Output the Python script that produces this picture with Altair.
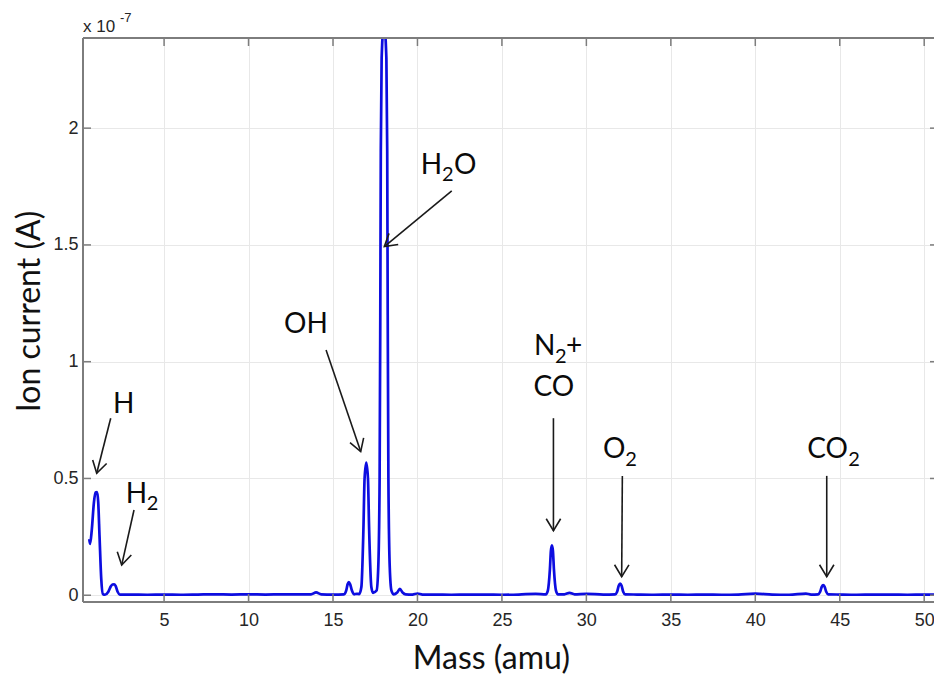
import altair as alt
import pandas as pd
import math

# ---------------- data (ion current in units of 1e-7 A) ----------------
mass = [0.57, 0.62, 0.72, 0.85, 0.95, 1.03, 1.10, 1.18, 1.28, 1.38, 1.50, 1.70, 1.85, 1.95, 2.04, 2.13, 2.25, 2.38,
        3.0, 4.0, 5.0, 6.0, 7.0, 8.0, 9.0, 10.0, 11.0, 12.0, 13.0, 13.7, 14.0, 14.3, 15.0,
        15.65, 15.78, 15.87, 15.94, 16.01, 16.12, 16.25, 16.40, 16.55, 16.68, 16.80, 16.87, 16.97, 17.07, 17.14, 17.27, 17.37,
        17.58, 17.68, 17.76, 17.80, 17.83, 17.88, 18.02, 18.16, 18.21, 18.24, 18.28, 18.36, 18.46,
        18.6, 18.8, 18.96, 19.12, 19.3, 19.7, 20.0, 20.3, 21.0, 22.0, 23.0, 24.0, 25.0, 26.0, 27.0,
        27.6, 27.72, 27.84, 27.9, 27.96, 28.02, 28.08, 28.2, 28.32, 28.7, 29.0, 29.3, 30.0, 31.0,
        31.7, 31.82, 31.92, 32.0, 32.08, 32.18, 32.3, 33.0, 34.0, 35.0, 36.0, 37.0, 38.0, 39.0, 40.0, 41.0, 42.0, 43.0, 43.3,
        43.72, 43.84, 43.94, 44.02, 44.1, 44.2, 44.32, 45.0, 46.0, 47.0, 48.0, 49.0, 50.0, 50.58]
current = [0.24, 0.22, 0.28, 0.40, 0.44, 0.442, 0.40, 0.25, 0.07, 0.005, 0.002, 0.015, 0.038, 0.046, 0.047, 0.040, 0.015, 0.003,
           0.003, 0.002, 0.003, 0.002, 0.003, 0.004, 0.003, 0.004, 0.003, 0.004, 0.004, 0.004, 0.012, 0.004, 0.003,
           0.004, 0.020, 0.048, 0.056, 0.048, 0.020, 0.004, 0.006, 0.005, 0.035, 0.28, 0.50, 0.568, 0.50, 0.28, 0.035, 0.010,
           0.02, 0.12, 0.5, 1.2, 1.9, 2.3, 2.45, 2.3, 1.9, 1.2, 0.5, 0.12, 0.02,
           0.004, 0.012, 0.027, 0.012, 0.004, 0.003, 0.007, 0.003, 0.003, 0.002, 0.003, 0.003, 0.002, 0.003, 0.006,
           0.004, 0.020, 0.11, 0.19, 0.214, 0.19, 0.11, 0.020, 0.004, 0.004, 0.010, 0.004, 0.006, 0.003,
           0.004, 0.015, 0.042, 0.050, 0.042, 0.015, 0.004, 0.003, 0.002, 0.003, 0.002, 0.003, 0.002, 0.003, 0.007, 0.003, 0.002, 0.007, 0.003,
           0.004, 0.015, 0.037, 0.043, 0.037, 0.015, 0.004, 0.003, 0.002, 0.003, 0.003, 0.002, 0.003, 0.003]

x_ticks = [5, 10, 15, 20, 25, 30, 35, 40, 45, 50]
y_ticks = [0, 0.5, 1, 1.5, 2]

# annotation text pieces (data coordinates; "small" pieces are subscripts)
piece_text = ["H", "H", "2", "OH", "H", "2", "O", "N", "2", "+", "CO", "O", "2", "CO", "2"]
piece_x = [1.98, 2.73, 3.98, 12.10, 20.19, 21.46, 22.17, 26.90, 28.14, 28.80, 26.87, 30.99, 32.30, 43.08, 45.50]
piece_y = [0.779, 0.394, 0.365, 1.124, 1.804, 1.775, 1.804, 1.029, 0.996, 1.029, 0.853, 0.586, 0.555, 0.586, 0.555]
piece_small = [False, False, True, False, False, True, False, False, True, False, False, False, True, False, True]

# arrows: start -> tip (data coordinates)
arrow_x1 = [1.84, 3.22, 14.59, 22.03, 28.05, 32.13, 44.23]
arrow_y1 = [0.758, 0.365, 1.050, 1.731, 0.758, 0.511, 0.511]
arrow_x2 = [1.011, 2.49, 16.64, 18.04, 28.05, 32.09, 44.23]
arrow_y2 = [0.522, 0.129, 0.615, 1.493, 0.276, 0.079, 0.079]

# ---------------- layout ----------------
W, H = 851, 564
XMIN, XMAX = 0.2, 50.58
YMIN, YMAX = -0.029, 2.386
PXX = W / (XMAX - XMIN)
PXY = H / (YMAX - YMIN)

xs = alt.Scale(domain=[XMIN, XMAX], nice=False, zero=False)
ys = alt.Scale(domain=[YMIN, YMAX], nice=False, zero=False)

AX = alt.Axis(values=x_ticks, grid=True, gridColor="#e8e8e8", domain=False, ticks=False,
              labelFont="Liberation Sans", labelFontSize=18, labelColor="#262626", labelPadding=9,
              title="Mass (amu)", titleFont="Lato", titleFontSize=32, titleFontWeight="normal",
              titleColor="#111111", titleX=408, titleY=66, titleAlign="center",
              titleBaseline="alphabetic", titleAnchor="start")
AY = alt.Axis(values=y_ticks, format="~g", grid=True, gridColor="#e8e8e8", domain=False, ticks=False,
              labelFont="Liberation Sans", labelFontSize=18, labelColor="#262626", labelPadding=5,
              title="Ion current (A)", titleFont="Lato", titleFontSize=32, titleFontWeight="normal",
              titleColor="#111111", titleAngle=270, titleX=-44, titleY=273, titleAlign="center",
              titleBaseline="alphabetic", titleAnchor="start")

spec_df = pd.DataFrame({"mass": mass, "current": current})
pieces_df = pd.DataFrame({"t": piece_text, "x": piece_x, "y": piece_y,
                          "fs": [20 if s else 28 for s in piece_small]})
ang = []
for a, b, c, d in zip(arrow_x1, arrow_y1, arrow_x2, arrow_y2):
    dx = (c - a) * PXX
    dy = -(d - b) * PXY
    ang.append(math.degrees(math.atan2(-dx, dy)) % 360)
arrows_df = pd.DataFrame({"x1": arrow_x1, "y1": arrow_y1, "x2": arrow_x2, "y2": arrow_y2, "ang": ang})
xt_df = pd.DataFrame({"m": x_ticks})
yt_df = pd.DataFrame({"v": y_ticks})
one = pd.DataFrame({"a": [0]})

GRAY = "#7d7d7d"

line = alt.Chart(spec_df).mark_line(color="#0d0de0", strokeWidth=2.7, interpolate="monotone", clip=True).encode(
    x=alt.X("mass:Q", scale=xs, axis=AX),
    y=alt.Y("current:Q", scale=ys, axis=AY),
)

bx_t = alt.Chart(xt_df).mark_rule(color=GRAY, strokeWidth=1.5).encode(
    x=alt.X("m:Q", scale=xs, axis=AX), y=alt.value(0), y2=alt.value(8))
bx_b = alt.Chart(xt_df).mark_rule(color=GRAY, strokeWidth=1.5).encode(
    x=alt.X("m:Q", scale=xs, axis=AX), y=alt.value(H), y2=alt.value(H - 8))
by_l = alt.Chart(yt_df).mark_rule(color=GRAY, strokeWidth=1.5).encode(
    y=alt.Y("v:Q", scale=ys, axis=AY), x=alt.value(0), x2=alt.value(8))
by_r = alt.Chart(yt_df).mark_rule(color=GRAY, strokeWidth=1.5).encode(
    y=alt.Y("v:Q", scale=ys, axis=AY), x=alt.value(W - 4), x2=alt.value(W))

border_top = alt.Chart(one).mark_rule(color=GRAY, strokeWidth=2).encode(
    x=alt.value(0), x2=alt.value(W), y=alt.value(0))
border_bot = alt.Chart(one).mark_rule(color=GRAY, strokeWidth=2).encode(
    x=alt.value(0), x2=alt.value(W), y=alt.value(H))
border_left = alt.Chart(one).mark_rule(color=GRAY, strokeWidth=2).encode(
    x=alt.value(0), y=alt.value(0), y2=alt.value(H))

arrow_lines = alt.Chart(arrows_df).mark_rule(color="#1a1a1a", strokeWidth=1.6).encode(
    x=alt.X("x1:Q", scale=xs, axis=AX), y=alt.Y("y1:Q", scale=ys, axis=AY),
    x2="x2:Q", y2="y2:Q")
arrow_heads = alt.Chart(arrows_df).mark_point(
    shape="M-0.6,-1L0,0L0.6,-1", filled=False, color="#1a1a1a", strokeWidth=1.6, size=576, opacity=1).encode(
    x=alt.X("x2:Q", scale=xs, axis=AX), y=alt.Y("y2:Q", scale=ys, axis=AY),
    angle=alt.Angle("ang:Q", scale=None))

labels = alt.Chart(pieces_df).mark_text(align="left", baseline="alphabetic", font="Lato", color="#0a0a0a").encode(
    x=alt.X("x:Q", scale=xs, axis=AX), y=alt.Y("y:Q", scale=ys, axis=AY),
    text="t:N", size=alt.Size("fs:Q", scale=None, legend=None))

mult1 = alt.Chart(one).mark_text(align="left", baseline="alphabetic", font="Liberation Sans", fontSize=17,
                                 color="#262626").encode(x=alt.value(0), y=alt.value(-6), text=alt.value("x 10"))
mult2 = alt.Chart(one).mark_text(align="left", baseline="alphabetic", font="Liberation Sans", fontSize=13,
                                 color="#262626").encode(x=alt.value(37), y=alt.value(-16.5), text=alt.value("-7"))

chart = alt.layer(line, bx_t, bx_b, by_l, by_r, border_top, border_bot, border_left,
                  arrow_lines, arrow_heads, labels, mult1, mult2).properties(
    width=W, height=H,
    autosize=alt.AutoSizeParams(type="none"),
    padding={"left": 83, "top": 38, "right": 0, "bottom": 73},
    background="white",
).configure_view(stroke=None)

chart.save("out.html", embed_options={"renderer": "svg", "actions": False})
